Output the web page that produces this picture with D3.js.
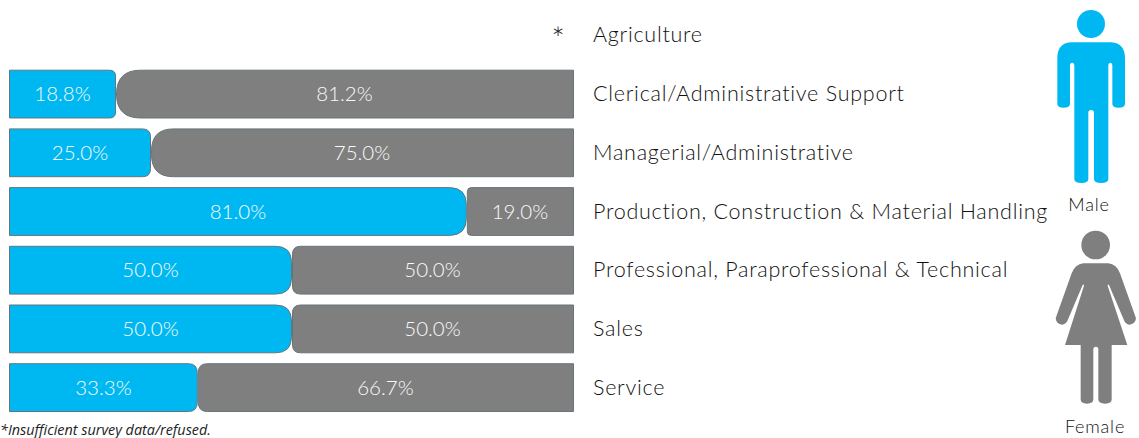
<!DOCTYPE html>
<html><head><meta charset="utf-8">
<script src="https://cdn.jsdelivr.net/npm/d3@7/dist/d3.min.js"></script>
<style>html,body{margin:0;padding:0;background:#fff;overflow:hidden}svg{display:block}text{font-family:Lato,"Open Sans",sans-serif}</style>
</head><body><svg id="c" width="1139" height="438"></svg>
<script>
const categories = ["Agriculture","Clerical/Administrative Support","Managerial/Administrative","Production, Construction & Material Handling","Professional, Paraprofessional & Technical","Sales","Service"];
const male = [null,18.8,25.0,81.0,50.0,50.0,33.3];
const female = [null,81.2,75.0,19.0,50.0,50.0,66.7];
const maleCorner = [0,6,8,17,16,16,9];
const femaleCorner = [0,24,22,4,8,8,9];

const BLUE="#00B8F1", GRAY="#7F7F7F", EDGE="#66757C", INK="#111111";
const svg=d3.select("#c");
const x=d3.scaleLinear().domain([0,100]).range([9.5,573.5]);
const y=d3.scaleBand().domain(categories).range([11.5,411.5]).paddingInner(0.186).paddingOuter(0);
const h=y.bandwidth();

function seg(x0,x1,y0,h,r,side){
  const y1=y0+h;
  return side==="right"
    ? `M${x0},${y0}H${x1-r}Q${x1},${y0} ${x1},${y0+r}V${y1-r}Q${x1},${y1} ${x1-r},${y1}H${x0}Z`
    : `M${x1},${y0}H${x0+r}Q${x0},${y0} ${x0},${y0+r}V${y1-r}Q${x0},${y1} ${x0+r},${y1}H${x1}Z`;
}
const rows=categories.map((c,i)=>({c,m:male[i],f:female[i],rm:maleCorner[i],rf:femaleCorner[i]}));
const valued=rows.filter(d=>d.m!==null);
const vals={fill:"#FAFAFA","font-size":20.5,"text-anchor":"middle","font-weight":300};

svg.append("g").selectAll("path").data(valued).join("path")
  .attr("d",d=>seg(x(d.m)+1,x(100),y(d.c),h,d.rf,"left")).attr("fill",GRAY).attr("stroke",EDGE);
svg.append("g").selectAll("path").data(valued).join("path")
  .attr("d",d=>seg(x(0),x(d.m),y(d.c),h,d.rm,"right")).attr("fill",BLUE).attr("stroke",EDGE);

const vm=svg.append("g").selectAll("text").data(valued).join("text")
  .attr("x",d=>(x(0)+x(d.m))/2).attr("y",d=>y(d.c)+h/2+7).text(d=>d.m.toFixed(1)+"%");
const vf=svg.append("g").selectAll("text").data(valued).join("text")
  .attr("x",d=>(x(d.m)+x(100))/2).attr("y",d=>y(d.c)+h/2+7).text(d=>d.f.toFixed(1)+"%");
[vm,vf].forEach(s=>Object.entries(vals).forEach(([k,v])=>s.attr(k,v)));

svg.append("g").selectAll("text").data(categories).join("text")
  .attr("x",593).attr("y",d=>y(d)+h/2+7).attr("fill",INK).attr("font-weight",300)
  .attr("font-size",21.5).attr("letter-spacing",0.75).text(d=>d);
svg.append("text").attr("x",558).attr("y",y(categories[0])+h/2+15).attr("text-anchor","middle")
  .attr("fill",INK).attr("font-size",32).attr("font-weight",300).text("*");

svg.append("text").attr("x",0).attr("y",435).attr("fill","#222").attr("font-size",14.4)
  .attr("font-style","italic").attr("font-weight",500).style("font-family","'Open Sans',sans-serif")
  .text("*Insufficient survey data/refused.");

const mi=svg.append("g").attr("transform","translate(1040,0) scale(0.3333)").attr("fill",BLUE);
mi.append("circle").attr("cx",153).attr("cy",72).attr("r",42);
mi.append("path").attr("d","M92,127H214Q255,130 255,175V312Q255,323 236,323Q217,323 217,312V196Q217,188 211,188Q205,188 205,196V538Q205,549 183,549Q162,549 162,538V338Q162,330 153,330Q145,330 145,338V538Q145,549 124,549Q103,549 103,538V196Q103,188 97,188Q90,188 90,196V312Q90,323 71,323Q52,323 52,312V175Q52,130 92,127Z");

const fi=svg.append("g").attr("transform","translate(1040,220) scale(0.3333)").attr("fill",GRAY);
fi.append("circle").attr("cx",167).attr("cy",75).attr("r",43);
fi.append("path").attr("d","M130,130H205Q230,133 240,160L288,295Q286,313 268,314Q258,313 253,303L208,197Q204,190 203,197L262,375H215V538Q215,551 196,551Q175,551 175,538V388Q175,380 168,380Q160,380 160,388V538Q160,551 141,551Q122,551 122,538V375H75L132,197Q131,190 127,197L82,303Q77,313 66,314Q49,313 47,295L95,160Q105,133 130,130Z");

svg.append("text").attr("x",1089).attr("y",211).attr("text-anchor","middle").attr("fill",INK).attr("font-weight",300).attr("font-size",18).attr("letter-spacing",0.8).text("Male");
svg.append("text").attr("x",1095).attr("y",433).attr("text-anchor","middle").attr("fill",INK).attr("font-weight",300).attr("font-size",18).attr("letter-spacing",0.8).text("Female");
</script></body></html>
